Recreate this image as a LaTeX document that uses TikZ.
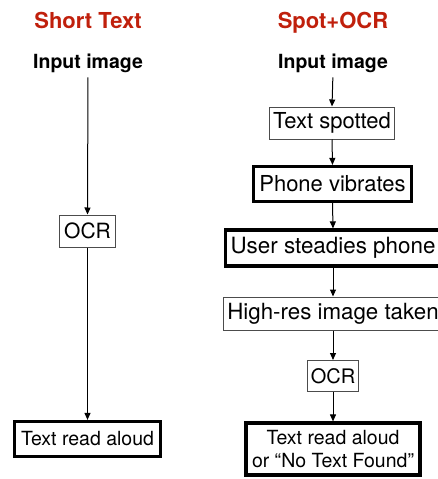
\documentclass[tikz,border=0pt]{standalone}
\usepackage{fontspec}
\setmainfont{TeX Gyre Heros}
\usetikzlibrary{arrows.meta}
\definecolor{titlered}{RGB}{192,32,12}
\begin{document}
\begin{tikzpicture}[x=1pt,y=-1pt,
  coltitle/.style={font=\fontsize{22}{26}\selectfont\bfseries, text=titlered, anchor=base},
  inlabel/.style={font=\fontsize{19.5}{23}\selectfont\bfseries, anchor=base, inner sep=0pt},
  thinbox/.style={draw=black!70, line width=1pt, inner xsep=4pt, inner ysep=0pt,
    minimum height=32pt, font=\fontsize{22}{26}\selectfont},
  thickbox/.style={draw=black, line width=3.2pt, inner xsep=5pt, inner ysep=0pt,
    minimum height=36pt, font=\fontsize{22}{26}\selectfont},
  smalltext/.style={font=\fontsize{19.5}{23}\selectfont},
  arr/.style={-{Triangle[length=7pt,width=6pt]}, line width=1pt}
]
\useasboundingbox (0,0) rectangle (438,479);

% column headings
\node[coltitle] (tL) at (88,28) {Short Text};
\node[coltitle] (tR) at (333,28) {Spot+OCR};
\node[inlabel] (inL) at (88,68) {Input image};
\node[inlabel] (inR) at (333,68) {Input image};

% short-text pipeline
\node[thinbox, font=\fontsize{21}{25}\selectfont, minimum width=56pt] (ocrL) at (87.5,231) {OCR};
\node[thickbox, smalltext, minimum width=146pt, minimum height=35pt] (outL) at (87.5,439) {Text read aloud};

% spot + OCR pipeline
\node[thinbox] (ts) at (332,123) {Text spotted};
\node[thickbox, minimum height=35pt, inner xsep=5.5pt] (pv) at (332.5,184) {Phone vibrates};
\node[thickbox, font=\fontsize{22.4}{26}\selectfont, minimum height=36pt, inner xsep=5pt] (us) at (333,248) {User steadies phone};
\node[thinbox, font=\fontsize{22.3}{26}\selectfont, minimum height=33pt] (hr) at (333,313.5) {High-res image taken};
\node[thinbox, font=\fontsize{20}{24}\selectfont, minimum height=31pt, inner xsep=3pt] (ocrR) at (333,376) {OCR};
\node[thickbox, smalltext, align=center, minimum height=52pt, inner xsep=6pt] (outR) at (333,449)
  {Text read aloud\\or “No Text Found”};

% connectors
\draw[arr, shorten <=5pt] (inL.south) -- (ocrL.north);
\draw[arr] (ocrL.south) -- (outL.north);
\draw[arr, shorten <=5pt] (inR.south) -- (ts.north);
\draw[arr] (ts.south) -- (pv.north);
\draw[arr] (pv.south) -- (us.north);
\draw[arr] (us.south) -- (hr.north);
\draw[arr] (hr.south) -- (ocrR.north);
\draw[arr] (ocrR.south) -- (outR.north);
\end{tikzpicture}
\end{document}
